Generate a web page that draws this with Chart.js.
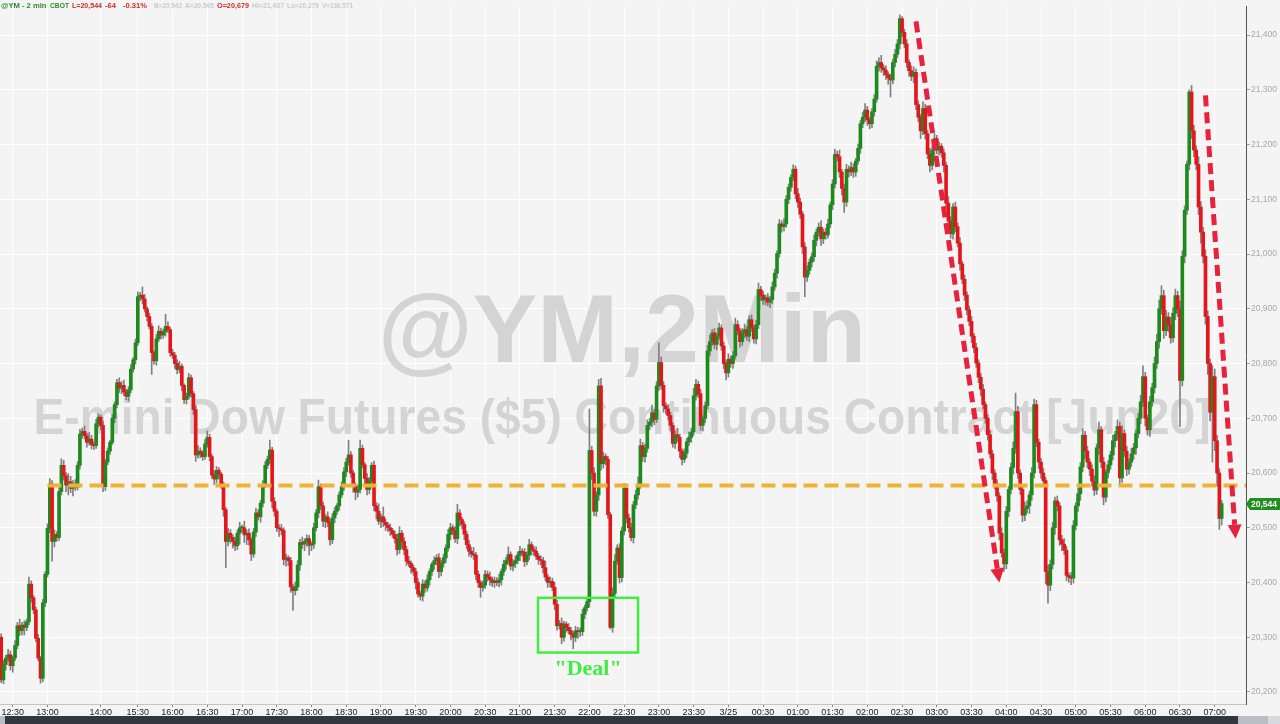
<!DOCTYPE html>
<html>
<head>
<meta charset="utf-8">
<script src="https://cdn.jsdelivr.net/npm/chart.js@4.4.1/dist/chart.umd.min.js"></script>
<style>
  html, body { margin: 0; padding: 0; background: #f4f4f4; }
  #wrap { width: 1280px; height: 716px; }
  #chart { display: block; background: #f4f4f4; }
  #strip { position: relative; width: 1280px; height: 8px; background: #323842; }
  #strip .l { position: absolute; left: 0; top: 0; width: 5px; height: 8px; background: #b9bdc4; }
  #strip .r { position: absolute; left: 1238px; top: 0; width: 30px; height: 8px; background: #b9bdc4; }
  #strip .r2 { position: absolute; left: 1268px; top: 0; width: 12px; height: 8px; background: #d6d9de; }
</style>
</head>
<body>
<div id="wrap"><canvas id="chart" width="1280" height="716"></canvas></div>
<div id="strip"><div class="l"></div><div class="r"></div><div class="r2"></div></div>
<script>
// @YM 2 min candles (open = previous close)
const firstOpen = 20300;

const closes = [
  20222, 20250, 20262, 20268, 20248, 20262, 20285, 20321, 20312, 20322,
  20318, 20328, 20397, 20372, 20350, 20298, 20262, 20225, 20363, 20415,
  20499, 20580, 20475, 20488, 20482, 20566, 20614, 20595, 20578, 20584,
  20572, 20580, 20574, 20614, 20671, 20676, 20668, 20656, 20662, 20652,
  20650, 20690, 20702, 20687, 20575, 20620, 20640, 20656, 20700, 20725,
  20765, 20755, 20760, 20748, 20740, 20752, 20790, 20807, 20838, 20922,
  20925, 20918, 20900, 20886, 20868, 20820, 20805, 20845, 20859, 20852,
  20858, 20868, 20862, 20820, 20815, 20800, 20789, 20795, 20760, 20734,
  20740, 20774, 20745, 20716, 20633, 20640, 20636, 20630, 20653, 20665,
  20630, 20596, 20589, 20605, 20598, 20578, 20533, 20475, 20490, 20482,
  20475, 20467, 20490, 20500, 20500, 20487, 20490, 20478, 20452, 20492,
  20527, 20520, 20545, 20578, 20614, 20625, 20642, 20548, 20530, 20500,
  20498, 20495, 20442, 20445, 20440, 20392, 20385, 20392, 20432, 20473,
  20470, 20475, 20480, 20468, 20470, 20500, 20527, 20575, 20540, 20512,
  20520, 20510, 20478, 20518, 20530, 20540, 20560, 20575, 20602, 20620,
  20633, 20600, 20575, 20565, 20570, 20645, 20615, 20590, 20570, 20585,
  20614, 20540, 20530, 20512, 20520, 20510, 20505, 20500, 20495, 20488,
  20480, 20460, 20490, 20475, 20460, 20439, 20435, 20427, 20420, 20400,
  20379, 20375, 20397, 20390, 20405, 20420, 20433, 20440, 20445, 20420,
  20435, 20445, 20463, 20488, 20500, 20495, 20480, 20527, 20515, 20506,
  20488, 20469, 20457, 20452, 20450, 20415, 20400, 20391, 20395, 20415,
  20410, 20405, 20400, 20403, 20400, 20405, 20420, 20433, 20440, 20451,
  20430, 20435, 20440, 20450, 20457, 20455, 20438, 20450, 20469, 20460,
  20457, 20448, 20442, 20440, 20427, 20410, 20400, 20402, 20391, 20360,
  20321, 20325, 20300, 20324, 20318, 20312, 20305, 20300, 20312, 20310,
  20310, 20342, 20354, 20365, 20641, 20600, 20530, 20560, 20759, 20617,
  20630, 20625, 20524, 20318, 20380, 20439, 20463, 20409, 20494, 20572,
  20518, 20500, 20482, 20542, 20560, 20578, 20650, 20630, 20645, 20687,
  20693, 20710, 20698, 20759, 20802, 20760, 20723, 20717, 20705, 20687,
  20654, 20670, 20665, 20640, 20625, 20636, 20657, 20665, 20675, 20741,
  20762, 20745, 20687, 20700, 20723, 20823, 20840, 20856, 20835, 20850,
  20865, 20832, 20800, 20783, 20808, 20800, 20814, 20871, 20860, 20840,
  20856, 20862, 20850, 20880, 20865, 20845, 20871, 20935, 20925, 20916,
  20920, 20912, 20917, 20940, 20965, 21001, 21055, 21050, 21055, 21100,
  21122, 21140, 21155, 21110, 21095, 21073, 21013, 20958, 20970, 20985,
  20995, 21025, 21040, 21049, 21028, 21040, 21035, 21055, 21090, 21128,
  21182, 21178, 21150, 21120, 21095, 21155, 21150, 21158, 21150, 21170,
  21193, 21238, 21250, 21263, 21245, 21238, 21260, 21283, 21343, 21350,
  21340, 21336, 21328, 21322, 21318, 21350, 21365, 21384, 21430, 21405,
  21384, 21350, 21335, 21325, 21332, 21273, 21250, 21225, 21266, 21220,
  21183, 21162, 21190, 21211, 21190, 21197, 21185, 21162, 21093, 21060,
  21037, 21086, 21050, 21020, 20982, 20954, 20925, 20898, 20877, 20850,
  20829, 20801, 20775, 20753, 20725, 20700, 20670, 20635, 20600, 20580,
  20558, 20490, 20454, 20434, 20530, 20570, 20610, 20645, 20712, 20600,
  20570, 20523, 20535, 20540, 20560, 20600, 20725, 20656, 20620, 20600,
  20586, 20420, 20395, 20433, 20500, 20549, 20540, 20478, 20470, 20459,
  20413, 20410, 20408, 20504, 20540, 20562, 20611, 20669, 20640, 20620,
  20607, 20585, 20569, 20646, 20679, 20620, 20556, 20601, 20615, 20633,
  20659, 20670, 20685, 20591, 20672, 20640, 20607, 20620, 20635, 20646,
  20672, 20700, 20730, 20776, 20700, 20679, 20730, 20756, 20800, 20840,
  20900, 20924, 20860, 20885, 20870, 20847, 20892, 20924, 20900, 20769,
  20996, 21080, 21164, 21296, 21225, 21190, 21164, 21086, 21040, 20996,
  20886, 20800, 20711, 20776, 20659, 20600, 20517, 20544
];

// wick length above / below the body, in points
const wickUp = [
  6, 8, 5, 10, 7, 4, 9, 6, 12, 5,
  8, 5, 13, 6, 4, 5, 7, 3, 6, 5,
  8, 10, 6, 8, 5, 7, 12, 9, 6, 15,
  10, 6, 8, 7, 9, 6, 10, 5, 12, 7,
  5, 8, 6, 4, 8, 5, 6, 4, 7, 5,
  6, 9, 7, 10, 5, 6, 8, 4, 7, 9,
  5, 15, 8, 4, 6, 5, 3, 8, 10, 6,
  5, 22, 8, 4, 6, 5, 7, 9, 4, 3,
  6, 8, 5, 4, 7, 10, 6, 5, 8, 12,
  6, 4, 8, 7, 5, 3, 6, 4, 9, 7,
  5, 8, 6, 10, 5, 12, 6, 8, 4, 7,
  9, 6, 5, 8, 7, 6, 18, 5, 7, 4,
  6, 8, 5, 7, 4, 6, 5, 9, 8, 6,
  10, 5, 7, 6, 4, 8, 6, 12, 5, 7,
  5, 9, 6, 8, 7, 4, 6, 9, 8, 7,
  27, 6, 5, 7, 8, 15, 6, 4, 9, 7,
  5, 8, 6, 14, 5, 18, 6, 5, 7, 4,
  6, 8, 12, 5, 7, 6, 9, 4, 5, 6,
  7, 5, 8, 6, 9, 5, 4, 7, 6, 8,
  5, 7, 6, 9, 8, 5, 7, 16, 6, 4,
  5, 6, 8, 7, 12, 5, 6, 4, 8, 7,
  6, 9, 5, 7, 6, 10, 5, 8, 6, 14,
  5, 7, 8, 6, 9, 5, 7, 6, 10, 5,
  6, 8, 5, 7, 6, 12, 5, 8, 6, 9,
  8, 6, 10, 5, 4, 7, 6, 5, 8, 6,
  7, 9, 5, 6, 76, 8, 10, 6, 12, 14,
  8, 5, 6, 4, 10, 12, 6, 8, 7, 9,
  5, 7, 8, 6, 9, 15, 12, 6, 8, 10,
  7, 14, 6, 8, 36, 10, 7, 5, 8, 6,
  5, 7, 12, 6, 4, 8, 6, 10, 7, 14,
  9, 6, 8, 5, 7, 10, 12, 6, 8, 5,
  9, 6, 7, 5, 10, 6, 8, 12, 7, 5,
  8, 10, 6, 7, 9, 5, 8, 12, 6, 7,
  5, 8, 6, 9, 7, 5, 8, 6, 10, 7,
  6, 5, 8, 6, 10, 7, 5, 8, 9, 6,
  7, 10, 6, 8, 12, 6, 7, 9, 5, 8,
  10, 6, 12, 5, 8, 9, 6, 10, 7, 5,
  8, 6, 9, 12, 7, 5, 6, 8, 10, 9,
  13, 6, 8, 5, 7, 6, 9, 8, 7, 4,
  6, 8, 5, 9, 10, 6, 7, 5, 12, 8,
  6, 10, 7, 9, 6, 8, 5, 7, 6, 12,
  8, 6, 9, 7, 10, 5, 8, 6, 7, 9,
  5, 8, 6, 7, 9, 5, 6, 8, 7, 6,
  8, 6, 10, 7, 9, 6, 8, 12, 34, 10,
  6, 8, 12, 9, 7, 10, 10, 8, 6, 7,
  9, 6, 12, 8, 10, 7, 9, 6, 8, 10,
  7, 5, 8, 9, 6, 10, 8, 12, 7, 9,
  6, 8, 10, 7, 14, 6, 9, 5, 8, 7,
  10, 6, 12, 8, 14, 7, 9, 6, 10, 8,
  7, 9, 12, 20, 8, 6, 10, 8, 12, 14,
  16, 18, 10, 12, 8, 14, 10, 12, 8, 14,
  10, 8, 6, 4, 12, 10, 8, 14, 10, 9,
  12, 10, 8, 20, 14, 10, 8, 6
];

const wickDown = [
  5, 7, 10, 6, 8, 12, 5, 6, 9, 8,
  14, 6, 5, 8, 7, 6, 5, 9, 6, 7,
  5, 8, 36, 10, 7, 5, 6, 8, 12, 18,
  8, 14, 6, 5, 7, 8, 6, 9, 5, 8,
  7, 5, 6, 8, 9, 7, 5, 6, 4, 8,
  6, 8, 10, 7, 6, 9, 5, 6, 8, 5,
  7, 9, 6, 8, 5, 40, 6, 8, 5, 7,
  6, 8, 5, 7, 6, 9, 8, 6, 10, 7,
  8, 5, 7, 9, 12, 6, 8, 7, 5, 6,
  8, 6, 10, 7, 9, 6, 12, 48, 8, 10,
  12, 9, 7, 20, 8, 14, 18, 10, 12, 6,
  8, 6, 10, 7, 5, 6, 8, 12, 9, 7,
  14, 8, 10, 12, 9, 10, 36, 8, 6, 10,
  8, 12, 9, 18, 10, 8, 6, 9, 7, 10,
  12, 8, 10, 7, 9, 6, 8, 5, 7, 9,
  6, 8, 10, 14, 9, 7, 6, 12, 10, 8,
  7, 9, 14, 6, 12, 8, 10, 7, 9, 6,
  8, 10, 7, 12, 9, 8, 6, 10, 7, 12,
  6, 7, 9, 8, 6, 10, 7, 9, 8, 11,
  8, 7, 9, 6, 10, 8, 7, 9, 12, 8,
  10, 7, 9, 6, 8, 10, 9, 18, 7, 6,
  8, 10, 7, 9, 6, 8, 10, 7, 9, 6,
  7, 9, 8, 6, 10, 7, 9, 6, 8, 10,
  7, 6, 9, 8, 10, 7, 9, 8, 6, 10,
  8, 6, 12, 7, 9, 6, 10, 21, 8, 12,
  9, 7, 8, 6, 10, 12, 8, 9, 10, 12,
  8, 10, 7, 3, 9, 8, 6, 10, 8, 7,
  9, 8, 6, 10, 7, 8, 6, 9, 10, 7,
  8, 9, 10, 6, 8, 7, 12, 9, 8, 10,
  7, 9, 8, 12, 10, 6, 8, 7, 9, 6,
  8, 7, 9, 10, 8, 6, 9, 7, 8, 10,
  6, 8, 9, 13, 8, 7, 9, 6, 8, 10,
  7, 9, 8, 10, 6, 8, 9, 7, 10, 8,
  9, 7, 10, 8, 6, 9, 7, 10, 8, 6,
  8, 7, 6, 9, 10, 8, 12, 36, 8, 7,
  9, 8, 10, 7, 12, 9, 8, 6, 7, 9,
  7, 8, 10, 12, 19, 8, 9, 7, 10, 8,
  6, 9, 7, 8, 10, 9, 7, 8, 6, 9,
  8, 10, 9, 12, 31, 7, 8, 6, 9, 8,
  7, 9, 10, 8, 12, 9, 8, 14, 7, 10,
  9, 12, 8, 10, 7, 9, 8, 12, 10, 9,
  8, 10, 9, 7, 12, 8, 10, 9, 8, 12,
  9, 8, 10, 12, 8, 9, 10, 8, 12, 9,
  10, 12, 8, 14, 9, 10, 8, 12, 9, 10,
  9, 12, 10, 8, 14, 10, 9, 8, 12, 10,
  9, 22, 33, 10, 8, 12, 9, 10, 12, 8,
  10, 10, 12, 9, 8, 10, 12, 9, 14, 10,
  12, 9, 10, 8, 12, 10, 14, 9, 10, 8,
  9, 12, 10, 14, 8, 10, 12, 9, 8, 10,
  12, 8, 10, 9, 14, 10, 12, 8, 10, 9,
  12, 10, 14, 9, 12, 10, 8, 12, 14, 84,
  10, 12, 8, 10, 14, 12, 10, 14, 20, 12,
  14, 20, 16, 91, 18, 24, 20, 12
];

// trading sessions (2 min bars), gaps are left out of the axis
const sessions = [['12:20', '13:14'], ['13:30', '14:00'], ['15:00', '07:26']];
const xTicks = ['12:30', '13:00', '14:00', '15:30', '16:00', '16:30', '17:00', '17:30', '18:00',
  '18:30', '19:00', '19:30', '20:00', '20:30', '21:00', '21:30', '22:00', '22:30', '23:00',
  '23:30', '00:00', '00:30', '01:00', '01:30', '02:00', '02:30', '03:00', '03:30', '04:00',
  '04:30', '05:00', '05:30', '06:00', '06:30', '07:00'];
const dayLabels = { '00:00': '3/25' };
const yTicks = [20200, 20300, 20400, 20500, 20600, 20700, 20800, 20900, 21000, 21100, 21200, 21300, 21400];

const supportLevel = 20577;
const supportFrom = 20;          // bar index where the dashed line starts
const arrows = [
  { from: [395, 21425], to: [431, 20400] },
  { from: [520, 21290], to: [533, 20480] }
];
const dealBox = { x0: 231.8, x1: 275, top: 20372, bottom: 20272, textAt: 20242 };

const header = [
  ['@YM - 2 min', 1, '#2f8a2f'], ['CBOT', 50, '#2f8a2f'], ['L=20,544', 72, '#d42a2a'],
  ['-64', 105, '#d42a2a'], ['-0.31%', 123, '#d42a2a'], ['B=20,542', 154, '#cacaca'],
  ['A=20,545', 185, '#cacaca'], ['O=20,679', 217, '#d42a2a'], ['Hi=21,437', 252, '#cacaca'],
  ['Lo=20,279', 287, '#cacaca'], ['V=136,571', 322, '#cacaca']
];

function buildTimes() {
  let out = [];
  sessions.forEach(([a, b]) => {
    let [h, m] = a.split(':').map(Number);
    let [h2, m2] = b.split(':').map(Number);
    let t = h * 60 + m;
    let end = h2 * 60 + m2;
    if (end < t) end += 1440;
    for (; t <= end; t += 2) {
      let mm = t % 1440;
      out.push(String(Math.floor(mm / 60)).padStart(2, '0') + ':' + String(mm % 60).padStart(2, '0'));
    }
  });
  return out;
}

const times = buildTimes();
const labelled = new Set();
times.forEach((t, i) => { if (xTicks.includes(t)) labelled.add(i); });

const opens = closes.map((c, i) => i === 0 ? firstOpen : closes[i - 1]);
const bodies = closes.map((c, i) => [opens[i], c]);
const wicks = closes.map((c, i) => [Math.min(opens[i], c) - wickDown[i], Math.max(opens[i], c) + wickUp[i]]);
const bodyColors = closes.map((c, i) => c >= opens[i] ? '#1e8a1e' : '#e3161c');

function dashedArrow(ctx, x1, y1, x2, y2) {
  const ang = Math.atan2(y2 - y1, x2 - x1);
  const head = 14;
  const bx = x2 - Math.cos(ang) * head, by = y2 - Math.sin(ang) * head;
  ctx.setLineDash([11, 6]);
  ctx.lineWidth = 5;
  ctx.beginPath();
  ctx.moveTo(x1, y1);
  ctx.lineTo(bx, by);
  ctx.stroke();
  ctx.setLineDash([]);
  ctx.beginPath();
  ctx.moveTo(x2, y2);
  ctx.lineTo(bx + Math.cos(ang + Math.PI / 2) * 7, by + Math.sin(ang + Math.PI / 2) * 7);
  ctx.lineTo(bx + Math.cos(ang - Math.PI / 2) * 7, by + Math.sin(ang - Math.PI / 2) * 7);
  ctx.closePath();
  ctx.fill();
}

const overlay = {
  id: 'overlay',
  beforeDatasetsDraw(chart) {
    const ctx = chart.ctx;
    ctx.save();
    ctx.fillStyle = '#d4d4d4';
    ctx.textAlign = 'center';
    ctx.textBaseline = 'alphabetic';
    ctx.font = 'bold 97px "Liberation Sans"';
    ctx.fillText('@YM,2Min', 622, 362);
    ctx.font = 'bold 50px "Liberation Sans"';
    ctx.fillText('E-mini Dow Futures ($5) Continuous Contract [Jun20]', 622, 434, 1177);
    ctx.restore();
  },
  afterDatasetsDraw(chart) {
    const { ctx, chartArea } = chart;
    const x = chart.scales.x, y = chart.scales.y;
    ctx.save();

    // support line
    ctx.strokeStyle = '#f0b234';
    ctx.lineWidth = 4;
    ctx.setLineDash([14, 7]);
    ctx.beginPath();
    ctx.moveTo(x.getPixelForValue(supportFrom), y.getPixelForValue(supportLevel));
    ctx.lineTo(chartArea.right, y.getPixelForValue(supportLevel));
    ctx.stroke();

    // red arrows
    ctx.strokeStyle = '#e8223c';
    ctx.fillStyle = '#e8223c';
    arrows.forEach(a => {
      dashedArrow(ctx, x.getPixelForValue(a.from[0]), y.getPixelForValue(a.from[1]),
        x.getPixelForValue(a.to[0]), y.getPixelForValue(a.to[1]));
    });

    // "Deal" box
    ctx.setLineDash([]);
    ctx.strokeStyle = '#40ee40';
    ctx.lineWidth = 2.5;
    const bx0 = x.getPixelForValue(dealBox.x0), bx1 = x.getPixelForValue(dealBox.x1);
    const by0 = y.getPixelForValue(dealBox.top), by1 = y.getPixelForValue(dealBox.bottom);
    ctx.strokeRect(bx0, by0, bx1 - bx0, by1 - by0);
    ctx.fillStyle = '#40ee40';
    ctx.font = 'bold 22px "Liberation Serif"';
    ctx.textAlign = 'center';
    ctx.textBaseline = 'middle';
    ctx.fillText('"Deal"', (bx0 + bx1) / 2, y.getPixelForValue(dealBox.textAt));

    // header line, each piece squeezed into its slot
    ctx.font = 'bold 7.6px "Liberation Sans"';
    ctx.textAlign = 'left';
    header.forEach(([t, px, col], k) => {
      const next = k < header.length - 1 ? header[k + 1][1] : px + 34;
      ctx.fillStyle = col;
      ctx.fillText(t, px, 6, next - px - 3);
    });
    ctx.restore();
  },
  afterDraw(chart) {
    const { ctx, chartArea } = chart;
    const y = chart.scales.y;
    const last = closes[closes.length - 1];
    const py = Math.round(y.getPixelForValue(last));
    const left = chartArea.right;
    ctx.save();
    ctx.fillStyle = '#1f8f1f';
    ctx.beginPath();
    ctx.moveTo(left, py);
    ctx.lineTo(left + 4, py - 6);
    ctx.lineTo(left + 34, py - 6);
    ctx.lineTo(left + 34, py + 6);
    ctx.lineTo(left + 4, py + 6);
    ctx.closePath();
    ctx.fill();
    ctx.fillStyle = '#ffffff';
    ctx.font = 'bold 8.5px "Liberation Sans"';
    ctx.textBaseline = 'middle';
    ctx.fillText(last.toLocaleString('en-US'), left + 5, py + 0.5);
    ctx.restore();
  }
};

new Chart(document.getElementById('chart'), {
  type: 'bar',
  data: {
    labels: times,
    datasets: [
      {
        label: 'wicks',
        data: wicks,
        backgroundColor: '#808080',
        barThickness: 1,
        grouped: false,
        order: 2
      },
      {
        label: 'YM',
        data: bodies,
        backgroundColor: bodyColors,
        barThickness: 3,
        minBarLength: 1,
        grouped: false,
        order: 1
      }
    ]
  },
  options: {
    responsive: false,
    animation: false,
    layout: { padding: 0 },
    plugins: { legend: { display: false }, tooltip: { enabled: false } },
    scales: {
      x: {
        offset: true,
        afterFit: s => { s.height = 12; },
        grid: {
          offset: false,
          color: c => labelled.has(c.index) ? '#ffffff' : 'rgba(0,0,0,0)',
          tickColor: c => labelled.has(c.index) ? '#888888' : 'rgba(0,0,0,0)',
          tickLength: 3
        },
        border: { color: '#c4c4c4' },
        ticks: {
          autoSkip: false,
          maxRotation: 0,
          padding: 0,
          color: '#1c1c1c',
          font: { family: '"Liberation Sans"', size: 9 },
          callback: function (val) {
            const t = this.getLabelForValue(val);
            if (!xTicks.includes(t)) return '';
            return dayLabels[t] || t;
          }
        }
      },
      y: {
        position: 'right',
        min: 20178,
        max: 21453,
        afterFit: s => { s.width = 34; },
        afterBuildTicks: s => { s.ticks = yTicks.map(v => ({ value: v })); },
        grid: { color: '#ffffff', tickColor: '#a0a0a0', tickLength: 4 },
        border: { color: '#555555' },
        ticks: {
          padding: 1,
          color: '#a8a8a8',
          font: { family: '"Liberation Sans"', size: 8.5 },
          callback: v => v.toLocaleString('en-US')
        }
      }
    }
  },
  plugins: [overlay]
});
</script>
</body>
</html>
